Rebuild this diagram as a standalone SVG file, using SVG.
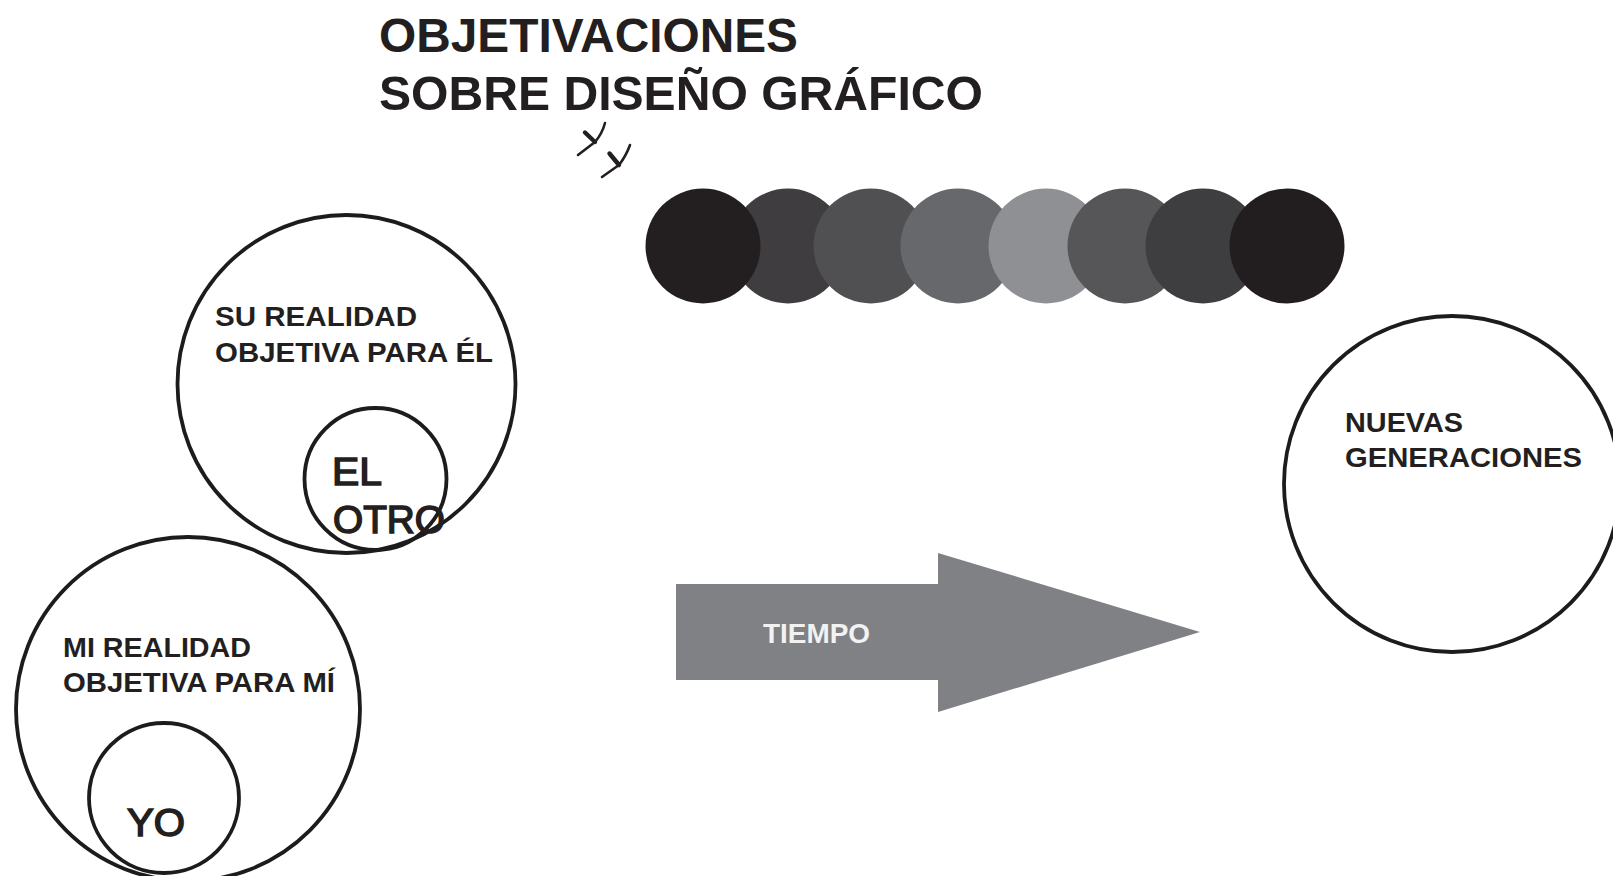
<svg xmlns="http://www.w3.org/2000/svg" width="1613" height="876" viewBox="0 0 1613 876">
<style>
.t{font-family:"Liberation Sans",Arial,Helvetica,sans-serif;fill:#231f20}
.b{font-weight:bold}
.lbl{font-size:28.5px;font-weight:bold}
.big{font-size:38px;font-weight:normal;stroke:#231f20;stroke-width:1.5}
.ring{fill:none;stroke:#1e1b1c;stroke-width:3.8}
.mark{fill:none;stroke:#231f20;stroke-linecap:round;stroke-linejoin:round}
</style>
<rect width="1613" height="876" fill="#ffffff"/>

<g id="title">
<text class="t b" x="379" y="52" font-size="48" textLength="419" lengthAdjust="spacingAndGlyphs">OBJETIVACIONES</text>
<text class="t b" x="379" y="110" font-size="48" textLength="604" lengthAdjust="spacingAndGlyphs">SOBRE DISEÑO GRÁFICO</text>
</g>

<g id="marks">
<path class="mark" stroke-width="2.6" d="M578,155 L595,142 Q602,134 605,123"/>
<path class="mark" stroke-width="4.4" d="M585,132.5 L595,142"/>
<path class="mark" stroke-width="2.6" d="M602,177 L619,165 Q626,156 630,145"/>
<path class="mark" stroke-width="4.4" d="M609.5,153.5 L619,165"/>
</g>

<g id="tone-scale">
<circle cx="788" cy="246" r="57.5" fill="#3f3d3f"/>
<circle cx="871" cy="246" r="57.5" fill="#505053"/>
<circle cx="958" cy="246" r="57.5" fill="#66686b"/>
<circle cx="1046" cy="246" r="57.5" fill="#8f9093"/>
<circle cx="1125" cy="246" r="57.5" fill="#565659"/>
<circle cx="1203" cy="246" r="57.5" fill="#3e3d3f"/>
<circle cx="1287" cy="246" r="57.5" fill="#221e1f"/>
<circle cx="703" cy="246" r="57.5" fill="#231f20"/>
</g>

<g id="su-realidad">
<circle class="ring" cx="346.5" cy="384" r="169"/>
<text class="t lbl" x="215" y="326" textLength="202" lengthAdjust="spacingAndGlyphs">SU REALIDAD</text>
<text class="t lbl" x="215" y="362" textLength="278" lengthAdjust="spacingAndGlyphs">OBJETIVA PARA ÉL</text>
</g>

<g id="el-otro">
<circle class="ring" cx="375.5" cy="479" r="71"/>
<text class="t big" x="332" y="485" textLength="50" lengthAdjust="spacingAndGlyphs">EL</text>
<text class="t big" x="333" y="533" textLength="112" lengthAdjust="spacingAndGlyphs">OTRO</text>
</g>

<g id="mi-realidad">
<circle class="ring" cx="188" cy="709" r="172"/>
<text class="t lbl" x="63" y="657" textLength="188" lengthAdjust="spacingAndGlyphs">MI REALIDAD</text>
<text class="t lbl" x="63" y="692" textLength="272" lengthAdjust="spacingAndGlyphs">OBJETIVA PARA MÍ</text>
</g>

<g id="yo">
<circle class="ring" cx="164" cy="798" r="75"/>
<text class="t big" x="127" y="836" font-size="39" textLength="58" lengthAdjust="spacingAndGlyphs">YO</text>
</g>

<g id="nuevas-generaciones">
<circle class="ring" cx="1452" cy="484" r="168"/>
<text class="t lbl" x="1345" y="432" textLength="118" lengthAdjust="spacingAndGlyphs">NUEVAS</text>
<text class="t lbl" x="1345" y="467" textLength="237" lengthAdjust="spacingAndGlyphs">GENERACIONES</text>
</g>

<g id="connectors">
<g id="tiempo">
<polygon points="676,584 938,584 938,553 1200,632 938,712 938,680 676,680" fill="#7f8184"/>
<text x="763" y="643" font-family="Liberation Sans,Arial,sans-serif" font-size="28" font-weight="bold" fill="#f2f2f2" textLength="107" lengthAdjust="spacingAndGlyphs">TIEMPO</text>
</g>
</g>
</svg>
